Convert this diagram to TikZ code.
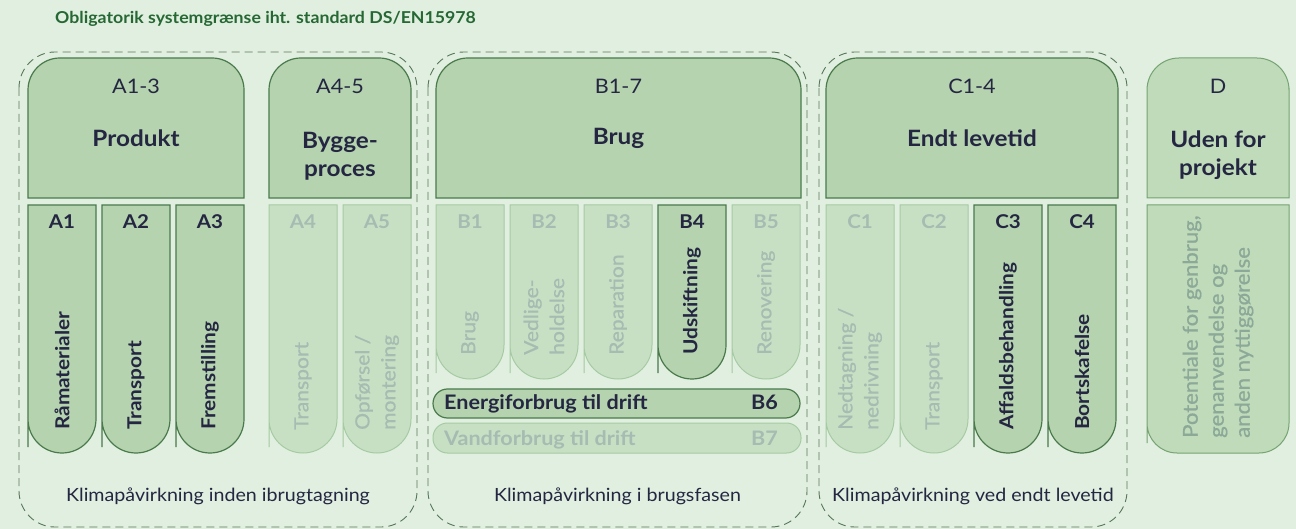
\documentclass[tikz,border=0pt]{standalone}
\usepackage{fontspec}
\setmainfont{Lato}[FakeStretch=1.08]
\newfontfamily\mediumfont{Lato}[FakeStretch=1.08, FakeBold=0.6]
\definecolor{bggreen}{RGB}{224,239,223}
\definecolor{boxfill}{RGB}{181,211,174}
\definecolor{boxline}{RGB}{74,122,76}
\definecolor{fadefill}{RGB}{199,224,196}
\definecolor{fadeline}{RGB}{166,203,163}
\definecolor{fadetext}{RGB}{166,187,177}
\definecolor{navy}{RGB}{36,38,66}
\definecolor{titlegreen}{RGB}{38,104,52}
\definecolor{dashline}{RGB}{88,118,92}
\definecolor{dfill}{RGB}{191,219,185}
\definecolor{dline}{RGB}{118,163,114}
\definecolor{dtext}{RGB}{140,168,152}
\newcommand{\hdrpath}[3]{\draw[#3] (#1,198) -- (#1,120) [rounded corners=32pt] -- (#1,58) -- (#2,58) -- (#2,120) [sharp corners] -- (#2,198) -- cycle;}
\newcommand{\colpath}[5]{\draw[#5] (#1,205) -- (#2,205) -- (#2,#3-40) [rounded corners=#4pt] -- (#2,#3) -- (#1,#3) -- (#1,#3-40) [sharp corners] -- cycle;}
\tikzset{
  hdrbox/.style={fill=boxfill, draw=boxline, line width=1.2pt},
  onbox/.style={fill=boxfill, draw=boxline, line width=1.2pt},
  offbox/.style={fill=fadefill, draw=fadeline, line width=1pt},
  dbox/.style={fill=dfill, draw=dline, line width=1pt},
  groupline/.style={draw=dashline, line width=0.9pt, dash pattern=on 8pt off 5pt, rounded corners=36pt},
  hdrcode/.style={font=\fontsize{20}{25}\selectfont, text=navy, inner sep=0pt},
  hdrname/.style={font=\fontsize{22.5}{28}\selectfont\bfseries, text=navy, align=center, inner sep=0pt},
  onlabel/.style={font=\fontsize{19}{22}\selectfont\bfseries, text=navy, inner sep=0pt},
  offlabel/.style={font=\fontsize{19}{22}\selectfont\bfseries, text=fadetext, inner sep=0pt},
  ontext/.style={rotate=90, anchor=west, align=left, inner sep=0pt, font=\fontsize{19.3}{26}\selectfont\bfseries, text=navy},
  offtext/.style={rotate=90, anchor=west, align=left, inner sep=0pt, font=\fontsize{19.5}{26}\mediumfont, text=fadetext},
  bartext/.style={font=\fontsize{20}{22}\selectfont\bfseries, inner sep=0pt},
  phase/.style={font=\fontsize{18.2}{22}\selectfont, text=navy, inner sep=0pt}
}
\begin{document}
\begin{tikzpicture}[x=1pt, y=-1pt]
\fill[bggreen] (0,0) rectangle (1296,529);
\useasboundingbox (0,0) rectangle (1296,529);

\node[anchor=west, font=\fontsize{16.4}{20}\selectfont\bfseries, text=titlegreen, inner sep=0pt] (title) at (55,18.5) {Obligatorik systemgrænse iht. standard DS/EN15978};

\draw[groupline] (19,52) rectangle (417,527);
\draw[groupline] (428,52) rectangle (807,527);
\draw[groupline] (819,52) rectangle (1127,527);

\hdrpath{28}{244}{hdrbox}
\hdrpath{269}{411}{hdrbox}
\hdrpath{436}{801}{hdrbox}
\hdrpath{826}{1118}{hdrbox}
\hdrpath{1147}{1289}{dbox}

\node[hdrcode] (a13) at (136,86) {A1-3};
\node[hdrname] (produkt) at (136,138) {Produkt};
\node[hdrcode] (a45) at (340,86) {A4-5};
\node[hdrname] (byggeproces) at (340,156) {Bygge-\\proces};
\node[hdrcode] (b17) at (618.5,86) {B1-7};
\node[hdrname] (brug) at (618.5,138) {Brug};
\node[hdrcode] (c14) at (972,86) {C1-4};
\node[hdrname] (endt) at (972,138) {Endt levetid};
\node[hdrcode] (d) at (1218,86) {D};
\node[hdrname] (uden) at (1218,155) {Uden for\\projekt};

\foreach \x/\name/\txt/\st in {28/A1/Råmaterialer/on, 102/A2/Transport/on, 176/A3/Fremstilling/on,
    269/A4/Transport/off, 343/A5/{Opførsel /\\montering}/off,
    826/C1/{Nedtagning /\\nedrivning}/off, 900/C2/Transport/off, 974/C3/Affaldsbehandling/on, 1048/C4/Bortskafelse/on}{
  \colpath{\x}{\x+68}{453}{34}{\st box}
  \node[\st label] (\name) at (\x+34,222) {\name};
  \node[\st text] (\name txt) at (\x+34,430) {\txt};
}

\foreach \x/\name/\txt/\st in {436/B1/Brug/off, 510/B2/{Vedlige-\\holdelse}/off, 584/B3/Reparation/off,
    658/B4/Udskiftning/on, 732/B5/Renovering/off}{
  \colpath{\x}{\x+68}{379}{34}{\st box}
  \node[\st label] (\name) at (\x+34,222) {\name};
  \node[\st text] (\name txt) at (\x+34,355) {\txt};
}

\draw[onbox, rounded corners=14.5pt] (433,389) rectangle (800,418);
\node[bartext, text=navy, anchor=base west] (B6txt) at (444,409.5) {Energiforbrug til drift};
\node[bartext, text=navy, anchor=base east] (B6) at (778,409.5) {B6};
\draw[offbox, rounded corners=14.5pt] (433,423) rectangle (801,453);
\node[bartext, text=fadetext, anchor=base west] (B7txt) at (444,445) {Vandforbrug til drift};
\node[bartext, text=fadetext, anchor=base east] (B7) at (778,445) {B7};

\colpath{1147}{1289}{453}{30}{dbox}
\node[offtext, text=dtext, font=\fontsize{20.5}{26}\mediumfont] (Dtxt) at (1218,438) {Potentiale for genbrug,\\genanvendelse og\\anden nyttiggørelse};

\node[phase] (phaseA) at (218,496) {Klimapåvirkning inden ibrugtagning};
\node[phase] (phaseB) at (617.5,496) {Klimapåvirkning i brugsfasen};
\node[phase] (phaseC) at (973,496) {Klimapåvirkning ved endt levetid};
\end{tikzpicture}
\end{document}
